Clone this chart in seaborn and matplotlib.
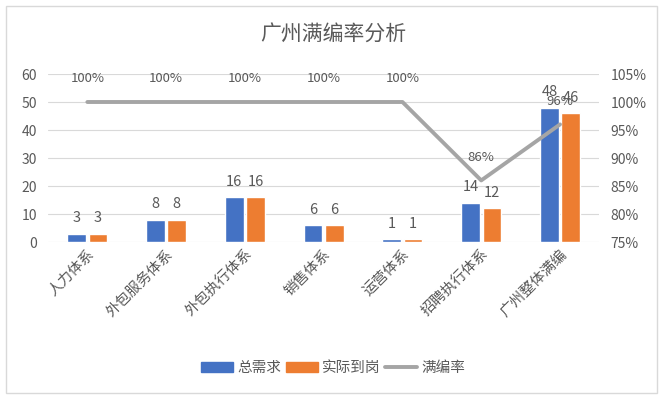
import numpy as np
import pandas as pd
import matplotlib
matplotlib.use('Agg')
import matplotlib.pyplot as plt
import seaborn as sns
from matplotlib.patches import Patch, Rectangle
from matplotlib.lines import Line2D

sns.set_style('white')
plt.rcParams['font.family'] = ['Noto Sans CJK SC', 'DejaVu Sans']

categories = ['人力体系', '外包服务体系', '外包执行体系', '销售体系', '运营体系', '招聘执行体系', '广州整体满编']
total_need = [3, 8, 16, 6, 1, 14, 48]
actual = [3, 8, 16, 6, 1, 12, 46]
rate = [100, 100, 100, 100, 100, 86, 96]

TEXT = '#595959'
c_need, c_act, c_rate = '#4472C4', '#ED7D31', '#A5A5A5'

df = pd.DataFrame({
    'cat': categories * 2,
    'val': total_need + actual,
    'series': ['总需求'] * len(categories) + ['实际到岗'] * len(categories),
})

fig = plt.figure(figsize=(6.66, 4.0), dpi=100)
ax = fig.add_axes([0.072, 0.395, 0.828, 0.42])

# 柱状图：总需求 vs 实际到岗
sns.barplot(data=df, x='cat', y='val', hue='series', ax=ax,
            palette=[c_need, c_act], width=0.54, gap=0.12, legend=False,
            saturation=1)
ax.set_ylim(0, 60)
ax.set_yticks(range(0, 61, 10))
ax.set_xlabel('')
ax.set_ylabel('')
ax.grid(axis='y', color='#D9D9D9', linewidth=0.8)
ax.set_axisbelow(True)
for s in ax.spines.values():
    s.set_visible(False)
ax.tick_params(axis='both', length=0, colors=TEXT, labelsize=10)
ax.tick_params(axis='y', pad=8)
ax.set_xticks(range(len(categories)))
ax.set_xticklabels(categories, rotation=45, ha='right', rotation_mode='anchor',
                   fontsize=10.5, color=TEXT)
ax.set_xlim(-0.5, len(categories) - 0.5)

for cont in ax.containers:
    for bar in cont:
        h = bar.get_height()
        ax.text(bar.get_x() + bar.get_width() / 2, h + 3, f'{int(h)}',
                ha='center', va='bottom', fontsize=10.5, color=TEXT)

# 折线：满编率（右轴）
ax2 = ax.twinx()
sns.lineplot(x=np.arange(len(categories)), y=rate, ax=ax2, color=c_rate,
             linewidth=2.8)
ax2.set_ylim(75, 105)
ax2.set_yticks(range(75, 106, 5))
ax2.set_yticklabels([f'{v}%' for v in range(75, 106, 5)])
ax2.tick_params(axis='y', length=0, colors=TEXT, labelsize=10, pad=8)
for s in ax2.spines.values():
    s.set_visible(False)
for i, r in enumerate(rate):
    ax2.text(i, r + 3, f'{r}%', ha='center', va='bottom', fontsize=9.5, color=TEXT)

fig.text(0.5, 0.915, '广州满编率分析', ha='center', va='center', fontsize=15, color=TEXT)

handles = [Patch(color=c_need, label='总需求'), Patch(color=c_act, label='实际到岗'),
           Line2D([0], [0], color=c_rate, linewidth=2.8, label='满编率')]
fig.legend(handles=handles, loc='center', bbox_to_anchor=(0.5, 0.08), ncol=3,
           frameon=False, fontsize=10.5, labelcolor=TEXT, handlelength=2.2,
           handletextpad=0.3, columnspacing=0.3)

fig.patches.append(Rectangle((0.009, 0.017), 0.978, 0.968, transform=fig.transFigure,
                             fill=False, edgecolor='#D9D9D9', linewidth=1))

fig.savefig('out.png', dpi=100)
